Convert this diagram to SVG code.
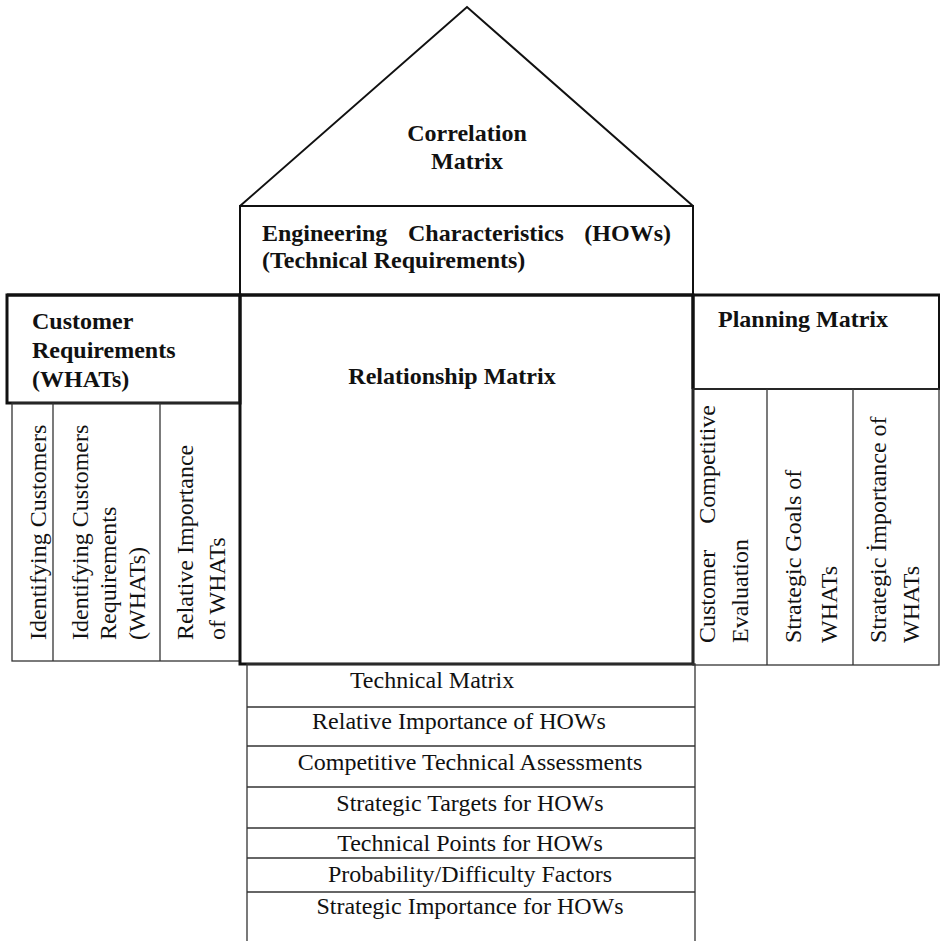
<svg xmlns="http://www.w3.org/2000/svg" width="940" height="941" viewBox="0 0 940 941">
<style>
.t{font-family:"Liberation Serif","Times New Roman",serif;font-size:24px;fill:#111}
.b{font-weight:bold}
.m{text-anchor:middle}
.thick{fill:none;stroke:#111;stroke-width:3}
.med{fill:none;stroke:#111;stroke-width:2}
.thin{fill:none;stroke:#333;stroke-width:1.3}
</style>
<rect width="940" height="941" fill="#fff"/>
<g id="correlation-matrix">
<polyline class="med" points="240,206 467,7 693,206"/>
<text class="t b m" x="467" y="141">Correlation</text>
<text class="t b m" x="467" y="169">Matrix</text>
</g>
<g id="engineering-characteristics">
<rect class="med" x="240" y="206" width="453" height="89"/>
<text class="t b" x="262" y="241">Engineering</text>
<text class="t b" x="408" y="241">Characteristics</text>
<text class="t b" x="671" y="241" text-anchor="end">(HOWs)</text>
<text class="t b" x="262" y="268">(Technical Requirements)</text>
</g>
<g id="customer-requirements">
<rect class="thick" x="7" y="295" width="233" height="108"/>
<text class="t b" x="32" y="329">Customer</text>
<text class="t b" x="32" y="358">Requirements</text>
<text class="t b" x="32" y="387">(WHATs)</text>
</g>
<g id="customer-columns">
<rect class="thin" x="12" y="403" width="228" height="258"/>
<line class="thin" x1="53" y1="403" x2="53" y2="661"/>
<line class="thin" x1="160" y1="403" x2="160" y2="661"/>
<text class="t" transform="translate(46,640) rotate(-90)">Identifying Customers</text>
<text class="t" transform="translate(88,640) rotate(-90)">Identifying Customers</text>
<text class="t" transform="translate(116,640) rotate(-90)">Requirements</text>
<text class="t" transform="translate(145,640) rotate(-90)">(WHATs)</text>
<text class="t" transform="translate(193,640) rotate(-90)">Relative Importance</text>
<text class="t" transform="translate(225,640) rotate(-90)">of WHATs</text>
</g>
<g id="relationship-matrix">
<rect class="thick" x="240" y="295" width="453" height="369"/>
<text class="t b m" x="452" y="384">Relationship Matrix</text>
</g>
<g id="planning-matrix">
<rect class="med" x="693" y="295" width="246" height="94"/>
<line class="thick" x1="693" y1="295" x2="693" y2="389"/>
<line class="thick" x1="7" y1="295" x2="940" y2="295"/>
<text class="t b" x="718" y="327">Planning Matrix</text>
</g>
<g id="planning-columns">
<rect class="thin" x="693" y="389" width="246" height="276"/>
<line class="thin" x1="767" y1="389" x2="767" y2="665"/>
<line class="thin" x1="853" y1="389" x2="853" y2="665"/>
<text class="t" transform="translate(715,643) rotate(-90)">Customer</text>
<text class="t" transform="translate(715,405) rotate(-90)" text-anchor="end">Competitive</text>
<text class="t" transform="translate(748,643) rotate(-90)">Evaluation</text>
<text class="t" transform="translate(801,643) rotate(-90)">Strategic Goals of</text>
<text class="t" transform="translate(837,643) rotate(-90)">WHATs</text>
<text class="t" transform="translate(886,643) rotate(-90)">Strategic İmportance of</text>
<text class="t" transform="translate(919,643) rotate(-90)">WHATs</text>
</g>
<g id="technical-rows">
<polyline class="thin" points="247,941 247,664 695,664 695,941"/>
<line class="thin" x1="247" y1="707" x2="695" y2="707"/>
<line class="thin" x1="247" y1="746" x2="695" y2="746"/>
<line class="thin" x1="247" y1="787" x2="695" y2="787"/>
<line class="thin" x1="247" y1="828" x2="695" y2="828"/>
<line class="thin" x1="247" y1="858" x2="695" y2="858"/>
<line class="thin" x1="247" y1="892" x2="695" y2="892"/>
<text class="t m" x="432" y="688">Technical Matrix</text>
<text class="t m" x="459" y="729">Relative Importance of HOWs</text>
<text class="t m" x="470" y="770">Competitive Technical Assessments</text>
<text class="t m" x="470" y="811">Strategic Targets for HOWs</text>
<text class="t m" x="470" y="851">Technical Points for HOWs</text>
<text class="t m" x="470" y="882">Probability/Difficulty Factors</text>
<text class="t m" x="470" y="914">Strategic Importance for HOWs</text>
</g>
<g id="connectors"></g>
</svg>
